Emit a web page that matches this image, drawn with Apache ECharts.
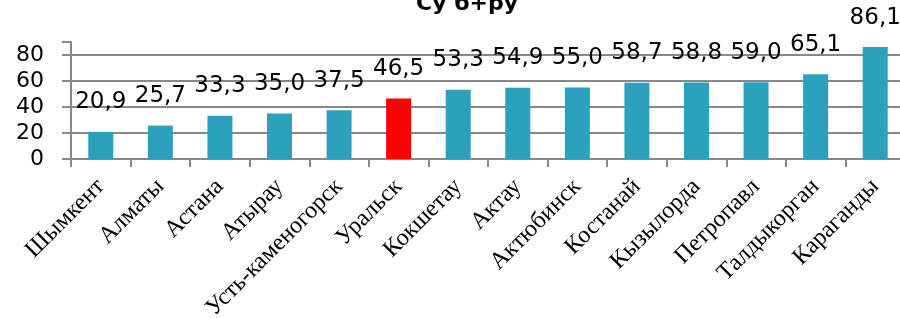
<!DOCTYPE html>
<html>
<head>
<meta charset="utf-8">
<script src="https://cdn.jsdelivr.net/npm/echarts@6/dist/echarts.min.js"></script>
<style>
  html, body { margin: 0; padding: 0; background: #fff; }
  #chart { width: 900px; height: 318px; }
</style>
</head>
<body>
<div id="chart"></div>
<script>
// города и значения
var cities = ["Шымкент", "Алматы", "Астана", "Атырау", "Усть-каменогорск", "Уральск", "Кокшетау",
  "Актау", "Актюбинск", "Костанай", "Кызылорда", "Петропавл", "Талдыкорган", "Караганды"];
var values = [20.9, 25.7, 33.3, 35.0, 37.5, 46.5, 53.3, 54.9, 55.0, 58.7, 58.8, 59.0, 65.1, 86.1];
var highlightCity = "Уральск";
var yTicks = [0, 20, 40, 60, 80];

var myChart = echarts.init(document.getElementById("chart"));
myChart.setOption({
  animation: false,
  title: {
    text: "Су б+ру",
    left: 462,
    top: -12,
    textAlign: "center",
    textStyle: { fontFamily: "DejaVu Sans", fontSize: 22, fontWeight: "bold", color: "#000" }
  },
  grid: {
    left: 71,
    right: -5,
    top: 42,
    bottom: 159,
    containLabel: false,
    outerBoundsMode: "none"
  },
  xAxis: {
    type: "category",
    data: cities,
    axisLine: { lineStyle: { color: "#888", width: 2 } },
    axisTick: { show: true, length: 8, lineStyle: { color: "#888", width: 2 } },
    axisLabel: {
      interval: 0,
      rotate: 45,
      margin: 24,
      fontFamily: "Liberation Serif",
      fontSize: 24,
      color: "#000"
    }
  },
  yAxis: {
    type: "value",
    min: 0,
    max: 90,
    interval: 20,
    axisLine: { show: true, lineStyle: { color: "#888", width: 2 } },
    axisTick: { show: true, length: 9, lineStyle: { color: "#888", width: 2 } },
    axisLabel: {
      margin: 27,
      fontFamily: "DejaVu Sans",
      fontSize: 22,
      color: "#000",
      formatter: function (v) { return yTicks.indexOf(v) >= 0 ? String(v) : ""; }
    },
    splitLine: {
      lineStyle: {
        // последняя линия (90) не нужна
        color: ["#888", "#888", "#888", "#888", "#888", "rgba(0,0,0,0)"],
        width: 2
      }
    }
  },
  series: [
    {
      type: "bar",
      barWidth: 25,
      data: values.map(function (v, i) {
        return {
          value: v,
          itemStyle: { color: cities[i] === highlightCity ? "#ff0000" : "#2ca1be" }
        };
      }),
      label: {
        show: true,
        position: "top",
        distance: 18,
        fontFamily: "DejaVu Sans",
        fontSize: 23,
        color: "#000",
        formatter: function (p) { return p.value.toFixed(1).replace(".", ","); }
      }
    }
  ]
});
</script>
</body>
</html>
